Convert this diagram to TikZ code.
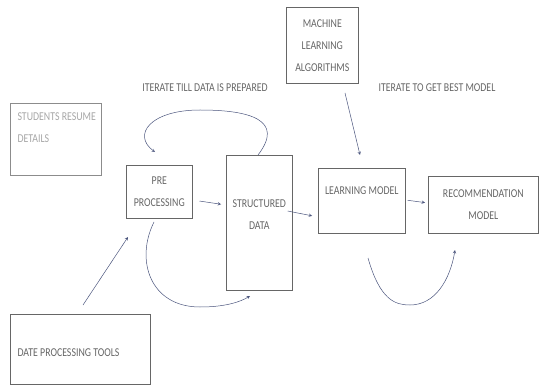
\documentclass[tikz,border=0pt]{standalone}
\usepackage{fontspec}
\setmainfont[FakeStretch=0.82]{Carlito}
\definecolor{arrowblue}{RGB}{75,85,125}
\begin{document}
\begin{tikzpicture}[>=stealth, x=1pt, y=-1pt,
    box/.style={draw=black!60, line width=0.6pt, anchor=north west, inner sep=0pt},
    txt/.style={text=black!60, font=\fontsize{12}{22}\selectfont, align=center},
    arr/.style={->, draw=arrowblue, line width=0.5pt}]
    \useasboundingbox (0,0) rectangle (540,387);
    % boxes
    \node[box, draw=black!45, minimum width=91, minimum height=72,
      label={[txt, text=black!35, align=left, anchor=north west, xshift=4, yshift=-6]north west:STUDENTS RESUME\\DETAILS}] (resume) at (10,103) {};
    \node[box, txt, minimum width=66, minimum height=53] (pre) at (126,165) {PRE\\PROCESSING};
    \node[box, minimum width=66, minimum height=135,
      label={[txt, anchor=north, yshift=-41]north:STRUCTURED\\DATA}] (struct) at (226,155) {};
    \node[box, minimum width=87, minimum height=65,
      label={[txt, anchor=north, yshift=-15]north:LEARNING MODEL}] (learn) at (318,168) {};
    \node[box, txt, minimum width=110, minimum height=57] (recom) at (428,176) {RECOMMENDATION\\MODEL};
    \node[box, txt, minimum width=72, minimum height=76] (mla) at (286,7) {MACHINE\\LEARNING\\ALGORITHMS};
    \node[box, minimum width=140, minimum height=70,
      label={[txt, anchor=west, xshift=4, yshift=-3]west:DATE PROCESSING TOOLS}] (tools) at (10,314) {};
    % loop texts
    \node[txt] (iter1) at (205,88) {ITERATE TILL DATA IS PREPARED};
    \node[txt] (iter2) at (437,88) {ITERATE TO GET BEST MODEL};
    % straight arrows
    \draw[arr, shorten <=7, shorten >=5] (pre.east |- 0,200) -- (struct.west |- 0,205);
    \draw[arr, shorten <=-5, shorten >=6] (struct.east |- 0,212) -- (learn.west |- 0,217);
    \draw[arr, shorten <=2, shorten >=3] (learn.east |- 0,200) -- (recom.west |- 0,203);
    \coordinate (mlaout) at (345,93);
    \coordinate (learnin) at (360,155);
    \draw[arr] (mlaout) -- (learnin);
    \coordinate (toolsout) at (83,305);
    \coordinate (prein) at (128,237);
    \draw[arr] (toolsout) -- (prein);
    % loops
    \draw[arr] (258,155) .. controls (285,120) and (250,110) .. (200,110)
      .. controls (150,110) and (132,135) .. (155,152);
    \draw[arr] (154,222) .. controls (135,260) and (150,307) .. (200,307)
      .. controls (225,307) and (240,302) .. (250,296);
    \draw[arr] (368,258) .. controls (380,300) and (395,305) .. (410,305)
      .. controls (435,305) and (450,280) .. (455,250);
\end{tikzpicture}
\end{document}
